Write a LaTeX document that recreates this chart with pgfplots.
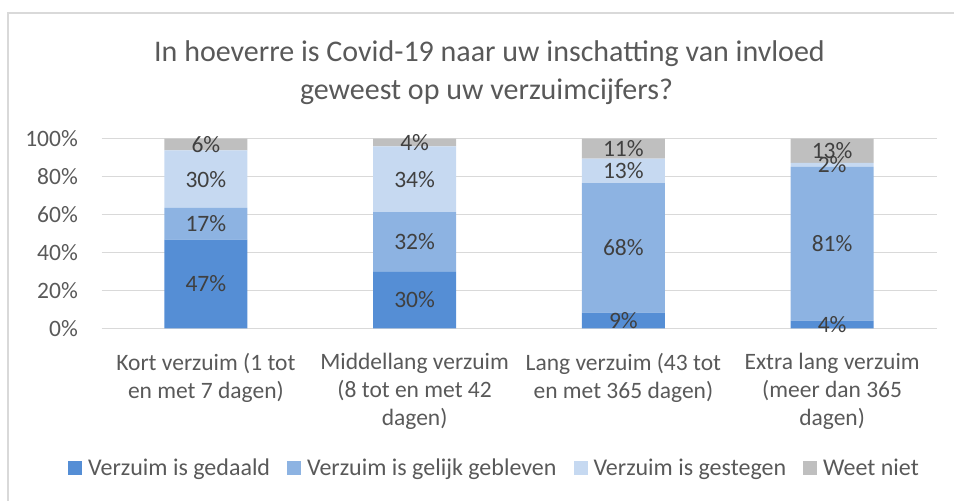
\documentclass[border=0pt]{standalone}
\usepackage{pgfplots}
\pgfplotsset{compat=1.18}
\usepackage{fontspec}
\setmainfont{Carlito}
\definecolor{c1}{HTML}{558ED5}
\definecolor{c2}{HTML}{8DB3E2}
\definecolor{c3}{HTML}{C6D9F1}
\definecolor{c4}{HTML}{BFBFBF}
\definecolor{txt}{HTML}{595959}
\definecolor{lbl}{HTML}{404040}
\definecolor{gridc}{HTML}{D9D9D9}
\newcommand{\fs}{\fontsize{23.5bp}{28bp}\selectfont}
\begin{document}
\begin{tikzpicture}
\useasboundingbox (0bp,0bp) rectangle (954bp,501bp);
\draw[color=gridc, line width=1.3bp] (8bp,-20bp) -- (8bp,488bp) -- (980bp,488bp);
\node[anchor=base, font=\fontsize{30bp}{36bp}\selectfont, text=txt, inner sep=0pt] at (489.5bp,439bp) {In hoeverre is Covid-19 naar uw inschatting van invloed};
\node[anchor=base, font=\fontsize{30bp}{36bp}\selectfont, text=txt, inner sep=0pt] at (486.5bp,401bp) {geweest op uw verzuimcijfers?};
\begin{axis}[
  at={(101.5bp,172.7bp)}, anchor=south west,
  scale only axis, width=835bp, height=189.6bp,
  ybar stacked, bar width=83bp,
  xmin=-0.5, xmax=3.5, ymin=0, ymax=100,
  clip=false,
  xtick={0,1,2,3},
  xticklabels={{Kort verzuim (1 tot\\en met 7 dagen)},{Middellang verzuim\\(8 tot en met 42\\dagen)},{Lang verzuim (43 tot\\en met 365 dagen)},{Extra lang verzuim\\(meer dan 365\\dagen)}},
  xticklabel style={align=center, font=\fs, text=txt, anchor=north, inner sep=0pt, yshift=-25bp},
  ytick={0,20,40,60,80,100},
  yticklabels={0\%,20\%,40\%,60\%,80\%,100\%},
  yticklabel style={font=\fs, text=txt, anchor=east, inner sep=0pt, xshift=-23.5bp},
  ymajorgrids, grid style={color=gridc, line width=1.3bp},
  axis line style={draw=none},
  major tick length=0,
  point meta=explicit symbolic,
  nodes near coords={\pgfplotspointmeta\%},
  nodes near coords align={center},
  every node near coord/.append style={font=\fs, text=lbl, inner sep=0pt, anchor=center},
  legend columns=-1,
  legend style={at={(0.4695,-0.7368)}, anchor=center, draw=none, fill=none, font=\fontsize{24bp}{28bp}\selectfont, text=txt,
    nodes={inner sep=0pt},
    /tikz/every odd column/.append style={column sep=6bp},
    /tikz/every even column/.append style={column sep=17bp}},
  legend image code/.code={\fill[#1] (0bp,-7bp) rectangle (14bp,7bp);},
]
\addplot[fill=c1, draw=none] coordinates {(0,46.8) [47] (1,29.8) [30] (2,8.3) [9] (3,4.0) [4]};
\addplot[fill=c2, draw=none] coordinates {(0,16.7) [17] (1,31.5) [32] (2,68.3) [68] (3,81.1) [81]};
\addplot[fill=c3, draw=none] coordinates {(0,30.3) [30] (1,34.6) [34] (2,12.9) [13] (3,2.1) [2]};
\addplot[fill=c4, draw=none] coordinates {(0,6.2) [6] (1,4.1) [4] (2,10.5) [11] (3,12.8) [13]};
\legend{Verzuim is gedaald, Verzuim is gelijk gebleven, Verzuim is gestegen, Weet niet}
\end{axis}
\end{tikzpicture}
\end{document}
